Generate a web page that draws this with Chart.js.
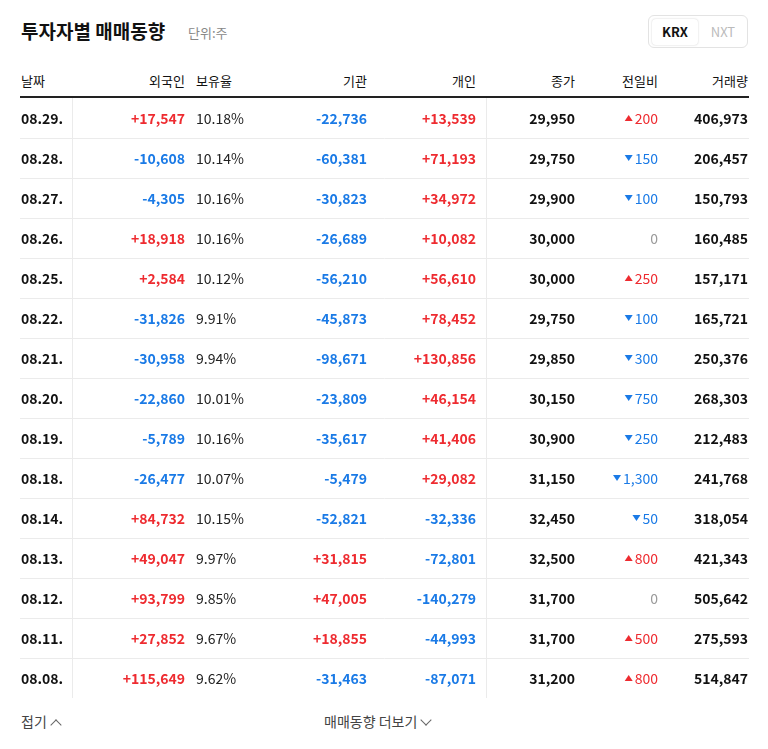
<!DOCTYPE html>
<html><head><meta charset="utf-8">
<script src="https://cdn.jsdelivr.net/npm/chart.js@4"></script>
<style>
body{margin:0;background:#fff;font-family:"Noto Sans CJK KR","Noto Sans",sans-serif;color:#111;}
#wrap{position:relative;width:768px;height:749px;}
.t{position:absolute;white-space:nowrap;}
#cv{position:absolute;left:0;top:98px;}
.chev{display:inline-block;width:7px;height:7px;border-right:1.3px solid #666;border-bottom:1.3px solid #666;margin-left:5px;}
</style></head><body>
<div id="wrap">
<div class="t" style="left:21px;top:17px;font-size:19px;font-weight:700;">투자자별 매매동향</div>
<div class="t" style="left:188px;top:23px;font-size:13px;color:#888;">단위:주</div>
<div class="t" style="left:648px;top:15px;width:100px;height:33px;border:1px solid #e3e3e3;border-radius:6px;box-sizing:border-box;"></div>
<div class="t" style="left:652px;top:19px;width:46px;height:26px;background:#fff;box-shadow:0 0 2px #ccc;border-radius:4px;text-align:center;line-height:26px;font-size:13px;font-weight:700;">KRX</div>
<div class="t" style="left:700px;top:19px;width:46px;height:26px;text-align:center;line-height:26px;font-size:13px;color:#bbb;">NXT</div>
<div class="t" style="left:21px;top:71px;font-size:13px;">날짜</div>
<div class="t" style="right:583px;top:71px;font-size:13px;">외국인</div>
<div class="t" style="left:196px;top:71px;font-size:13px;">보유율</div>
<div class="t" style="right:401px;top:71px;font-size:13px;">기관</div>
<div class="t" style="right:292px;top:71px;font-size:13px;">개인</div>
<div class="t" style="right:193px;top:71px;font-size:13px;">종가</div>
<div class="t" style="right:110px;top:71px;font-size:13px;">전일비</div>
<div class="t" style="right:20px;top:71px;font-size:13px;">거래량</div>
<div class="t" style="left:20px;top:96px;width:729px;height:2px;background:#222;"></div>
<canvas id="cv" width="768" height="600"></canvas>
<div class="t" style="left:21px;top:711px;font-size:14px;color:#444;">접기<span class="chev" style="transform:rotate(-135deg);position:relative;top:2px;"></span></div>
<div class="t" style="left:324px;top:711px;font-size:14px;color:#444;">매매동향 더보기<span class="chev" style="transform:rotate(45deg);position:relative;top:-3px;"></span></div>
</div>
<script>
const dates=["08.29.","08.28.","08.27.","08.26.","08.25.","08.22.","08.21.","08.20.","08.19.","08.18.","08.14.","08.13.","08.12.","08.11.","08.08."];
const foreign=[17547,-10608,-4305,18918,2584,-31826,-30958,-22860,-5789,-26477,84732,49047,93799,27852,115649];
const holding=["10.18%","10.14%","10.16%","10.16%","10.12%","9.91%","9.94%","10.01%","10.16%","10.07%","10.15%","9.97%","9.85%","9.67%","9.62%"];
const inst=[-22736,-60381,-30823,-26689,-56210,-45873,-98671,-23809,-35617,-5479,-52821,31815,47005,18855,-31463];
const indiv=[13539,71193,34972,10082,56610,78452,130856,46154,41406,29082,-32336,-72801,-140279,-44993,-87071];
const closes=[29950,29750,29900,30000,30000,29750,29850,30150,30900,31150,32450,32500,31700,31700,31200];
const changes=[200,-150,-100,0,250,-100,-300,-750,-250,-1300,-50,800,0,500,800];
const volume=[406973,206457,150793,160485,157171,165721,250376,268303,212483,241768,318054,421343,505642,275593,514847];
const RED="#ee2b30",BLUE="#1a7ae6";
const fmt=v=>Math.abs(v).toLocaleString('en-US');
const sgn=v=>(v>0?"+":"-")+fmt(v);
const F='"Noto Sans CJK KR","Noto Sans",sans-serif';
const tablePlugin={id:'tbl',afterDraw(c){
 const ctx=c.ctx,y=c.scales.y,x=c.scales.x;
 ctx.save();ctx.textBaseline='middle';
 const step=y.getPixelForValue(1)-y.getPixelForValue(0);
 ctx.strokeStyle='#ebebeb';ctx.lineWidth=1;
 dates.forEach((d,i)=>{const py=y.getPixelForValue(i);
  if(i<dates.length-1){ctx.beginPath();ctx.moveTo(x.getPixelForValue(20),Math.round(py+step/2)+0.5);ctx.lineTo(x.getPixelForValue(749),Math.round(py+step/2)+0.5);ctx.stroke();}
 });
 ctx.beginPath();ctx.moveTo(72.5,0);ctx.lineTo(72.5,600);ctx.moveTo(486.5,0);ctx.lineTo(486.5,600);ctx.stroke();
 const txt=(s,px,py,al,col,w)=>{ctx.font=(w||600)+' 14px '+F;ctx.textAlign=al;ctx.fillStyle=col;ctx.fillText(s,px,py);};
 dates.forEach((d,i)=>{const py=y.getPixelForValue(i)+1;
  txt(d,x.getPixelForValue(21),py,'left','#111',700);
  txt(sgn(foreign[i]),x.getPixelForValue(185),py,'right',foreign[i]>0?RED:BLUE);
  txt(holding[i],x.getPixelForValue(196),py,'left','#222',400);
  txt(sgn(inst[i]),x.getPixelForValue(367),py,'right',inst[i]>0?RED:BLUE);
  txt(sgn(indiv[i]),x.getPixelForValue(476),py,'right',indiv[i]>0?RED:BLUE);
  txt(fmt(closes[i]),x.getPixelForValue(575),py,'right','#111',700);
  const ch=changes[i];
  if(ch===0){txt('0',x.getPixelForValue(658),py,'right','#999',400);}
  else{const col=ch>0?RED:BLUE;const s=fmt(ch);ctx.font='400 14px '+F;const w=ctx.measureText(s).width;
   txt(s,x.getPixelForValue(658),py,'right',col,400);
   const tx=x.getPixelForValue(658)-w-6,ty=py-1;ctx.fillStyle=col;ctx.beginPath();
   if(ch>0){ctx.moveTo(tx-4,ty+3);ctx.lineTo(tx+4,ty+3);ctx.lineTo(tx,ty-3);}else{ctx.moveTo(tx-4,ty-3);ctx.lineTo(tx+4,ty-3);ctx.lineTo(tx,ty+3);}
   ctx.fill();}
  txt(fmt(volume[i]),x.getPixelForValue(748),py,'right','#111',700);
 });
 ctx.restore();}};
new Chart(document.getElementById('cv'),{type:'scatter',
 data:{datasets:[{data:dates.map((d,i)=>({x:21,y:d})),pointRadius:0}]},
 options:{responsive:false,animation:false,layout:{padding:0},
  plugins:{legend:{display:false},tooltip:{enabled:false}},
  scales:{x:{type:'linear',min:0,max:768,display:false},
   y:{type:'category',labels:dates,offset:true,display:false}}},
 plugins:[tablePlugin]});
</script></body></html>
